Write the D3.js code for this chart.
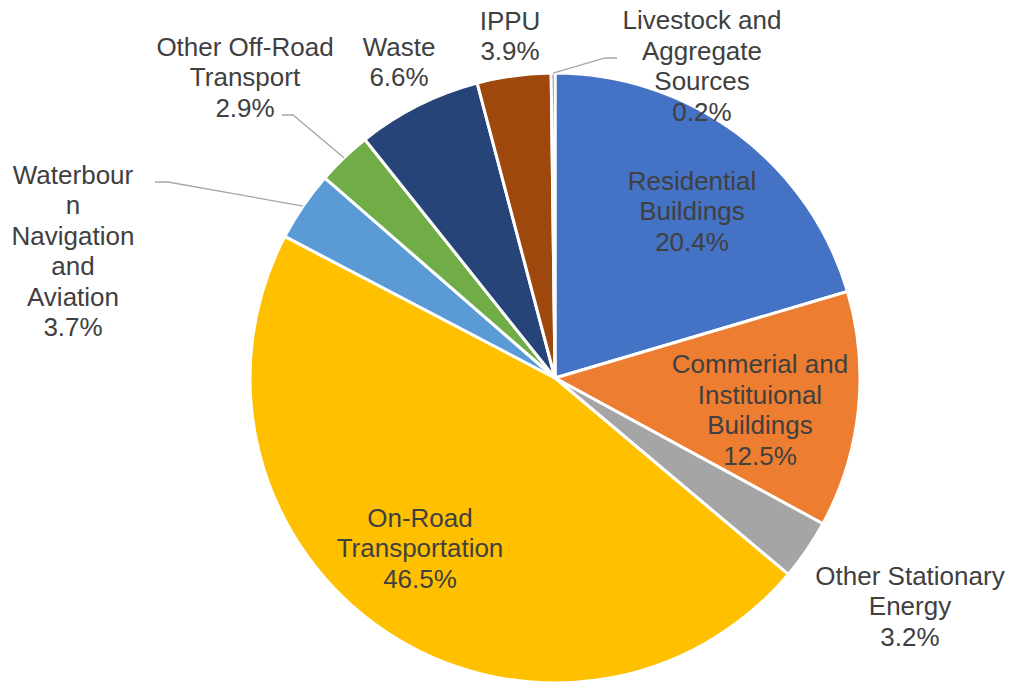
<!DOCTYPE html>
<html>
<head>
<meta charset="utf-8">
<script src="https://cdn.jsdelivr.net/npm/d3@7"></script>
<style>
  html, body { margin: 0; padding: 0; background: #ffffff; }
  svg { display: block; }
</style>
</head>
<body>
<svg id="chart" width="1012" height="683"></svg>
<script>
// ---- data ----
const categories = [
  "Residential Buildings",
  "Commerial and Instituional Buildings",
  "Other Stationary Energy",
  "On-Road Transportation",
  "Waterbourn Navigation and Aviation",
  "Other Off-Road Transport",
  "Waste",
  "IPPU",
  "Livestock and Aggregate Sources"
];
const values = [20.4, 12.5, 3.2, 46.5, 3.7, 2.9, 6.6, 3.9, 0.2];
const labelLines = [
  ["Residential", "Buildings"],
  ["Commerial and", "Instituional", "Buildings"],
  ["Other Stationary", "Energy"],
  ["On-Road", "Transportation"],
  ["Waterbour", "n", "Navigation", "and", "Aviation"],
  ["Other Off-Road", "Transport"],
  ["Waste"],
  ["IPPU"],
  ["Livestock and", "Aggregate", "Sources"]
];
const colors = ["#4472C4", "#ED7D31", "#A5A5A5", "#FFC000", "#5B9BD5", "#70AD47", "#264478", "#9E480E", "#636363"];

// ---- layout (label placement relative to pie centre) ----
const W = 1012, H = 683;
const cx = 555, cy = 378, R = 305;
const labelOffsets = [
  [137, -167], [205, 32], [355, 228], [-135, 170],
  [-482, -127], [-310, -301], [-156, -316], [-45, -342], [147, -312]
];
// leader elbows (relative to centre), null = no leader
const leaders = [
  null, null, null, null,
  [[-387, -196], [-400, -196]],
  [[-262, -263], [-273, -263]],
  null, null,
  [[50, -320], [62, -320]]
];

const svg = d3.select("#chart");
const g = svg.append("g").attr("transform", `translate(${cx},${cy})`);

const pie = d3.pie().sort(null).value(d => d)(values);
const arc = d3.arc().innerRadius(0).outerRadius(R);

g.selectAll("path.slice")
  .data(pie)
  .join("path")
  .attr("class", "slice")
  .attr("d", arc)
  .attr("fill", (d, i) => colors[i])
  .attr("stroke", "#ffffff")
  .attr("stroke-width", 3)
  .attr("stroke-linejoin", "round");

// leader lines
const edge = d3.arc().innerRadius(R).outerRadius(R);
pie.forEach((d, i) => {
  if (!leaders[i]) return;
  const [px, py] = edge.centroid(d);
  const pts = [[px, py]].concat(leaders[i]);
  g.append("path")
    .attr("d", d3.line()(pts))
    .attr("fill", "none")
    .attr("stroke", "#A6A6A6")
    .attr("stroke-width", 1.3);
});

// labels
const fontSize = 26, lineH = 30.5;
pie.forEach((d, i) => {
  const lines = labelLines[i].concat([values[i].toFixed(1) + "%"]);
  const [ox, oy] = labelOffsets[i];
  const t = g.append("text")
    .attr("text-anchor", "middle")
    .attr("font-family", "'Liberation Sans', Arial, sans-serif")
    .attr("font-size", fontSize)
    .attr("fill", "#404040");
  const startY = oy - (lines.length - 1) * lineH / 2;
  lines.forEach((ln, k) => {
    t.append("tspan")
      .attr("x", ox)
      .attr("y", startY + k * lineH)
      .attr("dy", "0.35em")
      .text(ln);
  });
});
</script>
</body>
</html>
